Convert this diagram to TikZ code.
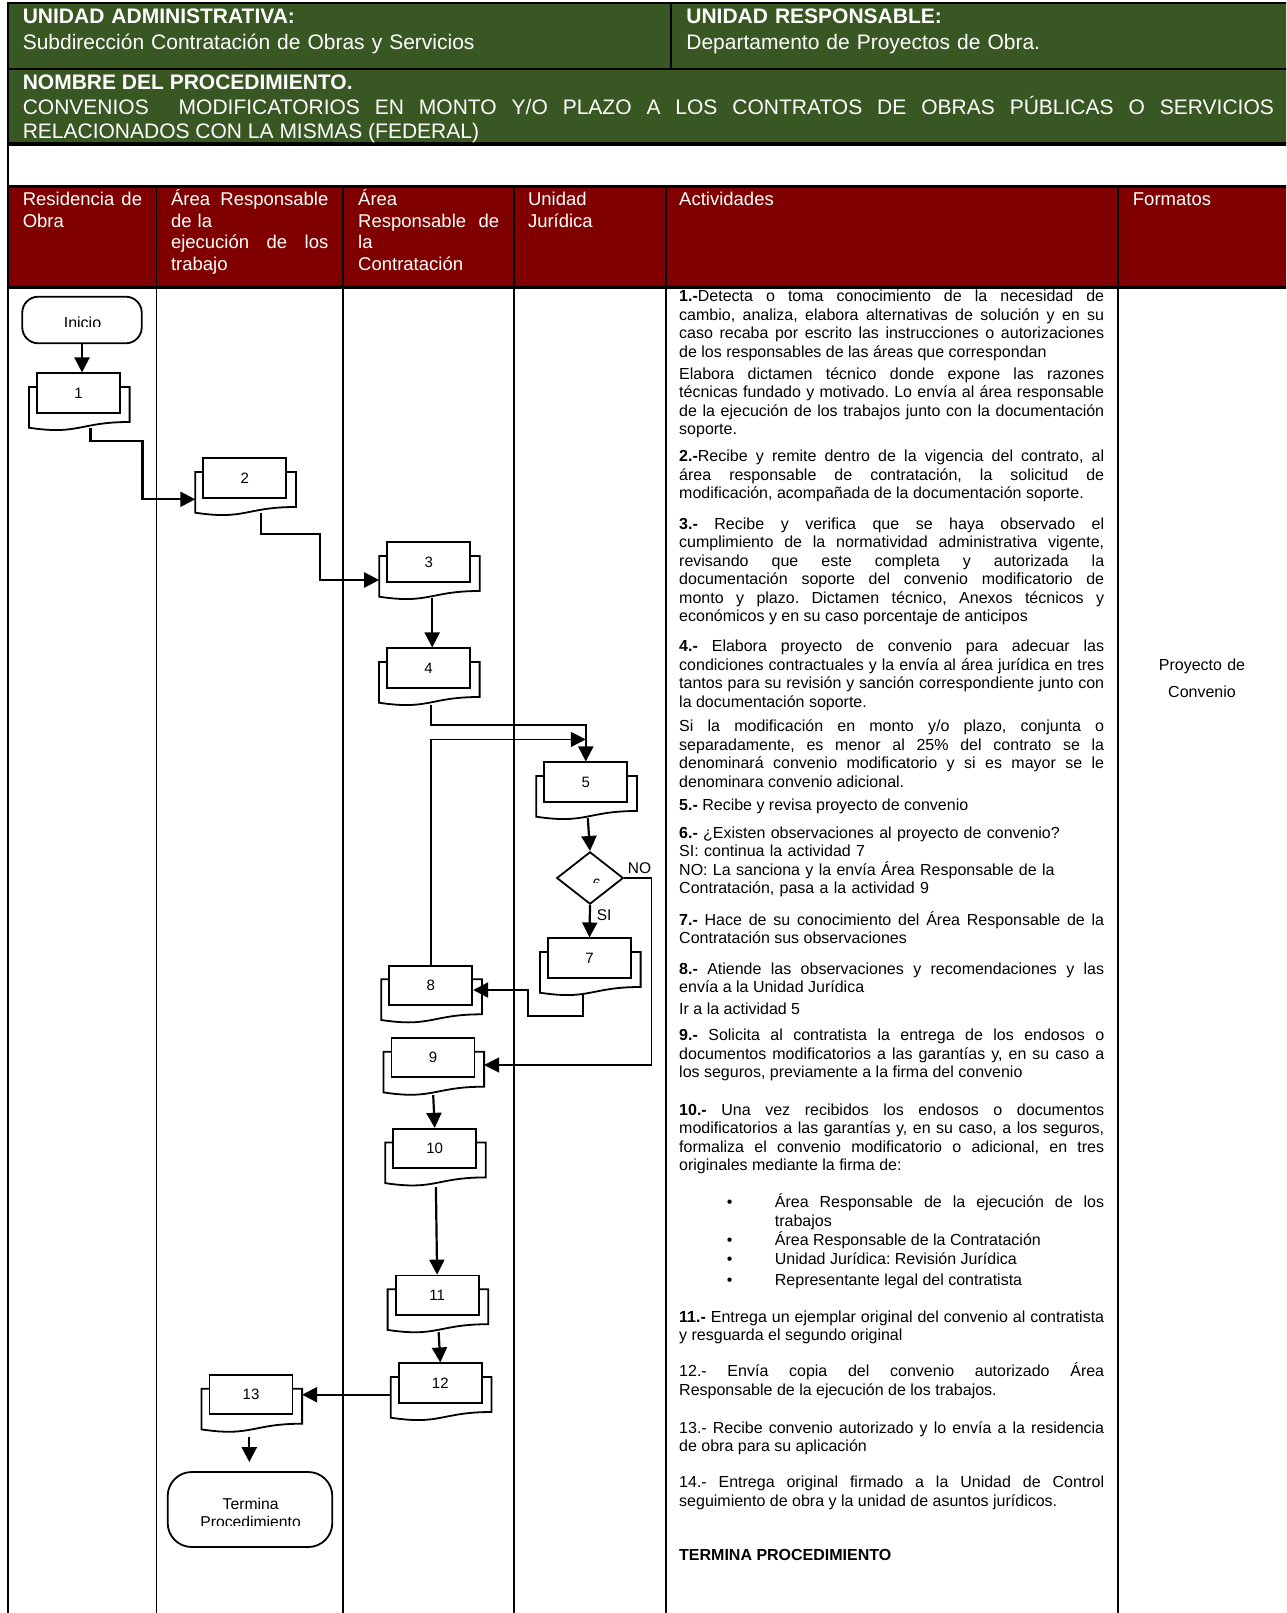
\documentclass[tikz,border=0pt]{standalone}
\usepackage{fontspec}
\setmainfont{Liberation Sans}
\usepackage{xcolor}
\usepackage{tikz}
\usetikzlibrary{shapes,arrows,positioning,calc,arrows.meta}
\definecolor{hdrgreen}{RGB}{56,87,35}
\definecolor{hdrred}{RGB}{128,0,0}
\frenchspacing
\tolerance=9999
\hyphenpenalty=10000
\exhyphenpenalty=10000

\newcommand{\actstep}[3]{%
  \coordinate (#1-c) at (#2);
  \draw[backdoc] ($(#1-c)+(-49.5,-6)$) -- ++(100.6,0) -- ++(0,35)
    .. controls ($(#1-c)+(0.8,29)$) and ($(#1-c)+(0.8,42.3)$) .. ($(#1-c)+(-49.5,34.7)$) -- cycle;
  \node[actbox] (#1) at (#1-c) {#3};
}

\begin{document}
\begin{tikzpicture}[x=1pt, y=-1pt,
    actbox/.style={draw, line width=1.8pt, fill=white, minimum width=83pt, minimum height=39.3pt, inner sep=0pt, font=\fontsize{15}{18}\selectfont},
    backdoc/.style={draw, line width=1.8pt, fill=white},
    terminal/.style={draw, line width=1.8pt, fill=white, inner sep=0pt},
    decision/.style={draw, diamond, line width=1.8pt, fill=white, inner sep=0pt, minimum width=66.6pt, minimum height=52.3pt},
    flow/.style={line width=2.2pt, -{Triangle[length=15pt,width=15pt]}},
    thinflow/.style={flow, line width=1.4pt},
    lbl/.style={inner sep=0pt, font=\fontsize{15.5}{18}\selectfont},
    gridline/.style={line width=1.6pt},
    gtxt/.style={anchor=base west, inner sep=0pt, text=white, text width=600pt, align=left, font=\fontsize{21}{25.3}\selectfont},
    htxt/.style={anchor=base west, inner sep=0pt, text=white, align=left, font=\fontsize{18.5}{21.5}\selectfont},
    acttxt/.style={anchor=base west, inner sep=0pt, text width=425pt, align=justify, font=\fontsize{16}{18.5}\selectfont},
    bultxt/.style={acttxt, text width=329.3pt, font=\fontsize{16}{19}\selectfont}]
    \useasboundingbox (0,0) rectangle (1286,1613);
    \clip (0,0) rectangle (1286,1613);

    \fill[hdrgreen] (8,3) rectangle (1290,144.5);
    \fill[hdrred] (8,186.7) rectangle (1290,287);
    \draw[line width=2.6pt] (8,3) -- (1290,3);
    \draw[line width=2pt] (8,69) -- (1290,69);
    \draw[line width=4pt] (8,144.5) -- (1290,144.5);
    \draw[line width=3pt] (8,186.7) -- (1290,186.7);
    \draw[line width=3pt] (8,287) -- (1290,287);
    \draw[line width=2.6pt] (8,1.7) -- (8,1620);
    \draw[line width=2pt] (671,3) -- (671,69);
    \foreach \cx in {156.5,343,514,666,1118}
        \draw[gridline] (\cx,186.7) -- (\cx,1620);

    \node[gtxt] (uadm) at (22.6,24) {\textbf{UNIDAD ADMINISTRATIVA:}\\Subdirección Contratación de Obras y Servicios};
    \node[gtxt] (uresp) at (686.2,24) {\textbf{UNIDAD RESPONSABLE:}\\Departamento de Proyectos de Obra.};
    \node[gtxt, text width=1251pt, align=justify, font=\fontsize{21}{24.2}\selectfont] (nproc) at (22.6,90) {\textbf{NOMBRE DEL PROCEDIMIENTO.}\\CONVENIOS\ \ MODIFICATORIOS EN MONTO Y/O PLAZO A LOS CONTRATOS DE OBRAS PÚBLICAS O SERVICIOS\linebreak RELACIONADOS CON LA MISMAS (FEDERAL)};

    \node[htxt, text width=125pt] (hres) at (22.6,206) {\makebox[119.3pt][l]{Residencia\hfill de}\\Obra};
    \node[htxt, text width=160pt] (hejec) at (170.8,206) {\makebox[157.4pt][l]{Área\hfill Responsable}\\de la\\\makebox[157.4pt][l]{ejecución\hfill de\hfill los}\\trabajo};
    \node[htxt, text width=145pt] (hcont) at (358,206) {Área\\\makebox[141pt][l]{Responsable\hfill de}\\la\\Contratación};
    \node[htxt, text width=130pt] (hjur) at (527.8,206) {Unidad\\Jurídica};
    \node[htxt, text width=400pt] (hact) at (679,206) {Actividades};
    \node[htxt, text width=150pt] (hfor) at (1132.7,206) {Formatos};

    \node[acttxt] (a1) at (679,301.7) {\textbf{1.-}Detecta o toma conocimiento de la necesidad de\linebreak cambio, analiza, elabora alternativas de solución y en su\linebreak caso recaba por escrito las instrucciones o autorizaciones\linebreak de los responsables de las áreas que correspondan};
    \node[acttxt] (a1b) at (679,379) {Elabora dictamen técnico donde expone las razones\linebreak técnicas fundado y motivado. Lo envía al área responsable\linebreak de la ejecución de los trabajos junto con la documentación\linebreak soporte.};
    \node[acttxt] (a2) at (679,461.7) {\textbf{2.-}Recibe y remite dentro de la vigencia del contrato, al\linebreak área responsable de contratación, la solicitud de\linebreak modificación, acompañada de la documentación soporte.};
    \node[acttxt] (a3) at (679,529) {\textbf{3.-} Recibe y verifica que se haya observado el\linebreak cumplimiento de la normatividad administrativa vigente,\linebreak revisando que este completa y autorizada la\linebreak documentación soporte del convenio modificatorio de\linebreak monto y plazo. Dictamen técnico, Anexos técnicos y\linebreak económicos y en su caso porcentaje de anticipos};
    \node[acttxt] (a4) at (679,651.7) {\textbf{4.-} Elabora proyecto de convenio para adecuar las\linebreak condiciones contractuales y la envía al área jurídica en tres\linebreak tantos para su revisión y sanción correspondiente junto con\linebreak la documentación soporte.};
    \node[acttxt] (a4b) at (679,731.7) {Si la modificación en monto y/o plazo, conjunta o\linebreak separadamente, es menor al 25\% del contrato se la\linebreak denominará convenio modificatorio y si es mayor se le\linebreak denominara convenio adicional.};
    \node[acttxt] (a5) at (679,810.7) {\textbf{5.-} Recibe y revisa proyecto de convenio};
    \node[acttxt, align=left] (a6) at (679,838.3) {\textbf{6.-} ¿Existen observaciones al proyecto de convenio?\\SI: continua la actividad 7\\NO: La sanciona y la envía Área Responsable de la\\Contratación, pasa a la actividad 9};
    \node[acttxt] (a7) at (679,925) {\textbf{7.-} Hace de su conocimiento del Área Responsable de la\linebreak Contratación sus observaciones};
    \node[acttxt] (a8) at (679,974) {\textbf{8.-} Atiende las observaciones y recomendaciones y las\linebreak envía a la Unidad Jurídica};
    \node[acttxt] (a8b) at (679,1014) {Ir a la actividad 5};
    \node[acttxt] (a9) at (679,1040.7) {\textbf{9.-} Solicita al contratista la entrega de los endosos o\linebreak documentos modificatorios a las garantías y, en su caso a\linebreak los seguros, previamente a la firma del convenio};
    \node[acttxt] (a10) at (679,1115) {\textbf{10.-} Una vez recibidos los endosos o documentos\linebreak modificatorios a las garantías y, en su caso, a los seguros,\linebreak formaliza el convenio modificatorio o adicional, en tres\linebreak originales mediante la firma de:};
    \node[bultxt] (bu1) at (774.7,1207.7) {\llap{\textbullet\hspace{42.5pt}}Área Responsable de la ejecución de los\linebreak trabajos};
    \node[bultxt] (bu2) at (774.7,1245) {\llap{\textbullet\hspace{42.5pt}}Área Responsable de la Contratación};
    \node[bultxt] (bu3) at (774.7,1264.3) {\llap{\textbullet\hspace{42.5pt}}Unidad Jurídica: Revisión Jurídica};
    \node[bultxt] (bu4) at (774.7,1285) {\llap{\textbullet\hspace{42.5pt}}Representante legal del contratista};
    \node[acttxt] (a11) at (679,1322.3) {\textbf{11.-} Entrega un ejemplar original del convenio al contratista\linebreak y resguarda el segundo original};
    \node[acttxt] (a12) at (679,1376.7) {12.- Envía copia del convenio autorizado Área\linebreak Responsable de la ejecución de los trabajos.};
    \node[acttxt] (a13) at (679,1433.3) {13.- Recibe convenio autorizado y lo envía a la residencia\linebreak de obra para su aplicación};
    \node[acttxt] (a14) at (679,1487.7) {14.- Entrega original firmado a la Unidad de Control\linebreak seguimiento de obra y la unidad de asuntos jurídicos.};
    \node[acttxt] (afin) at (679,1560.7) {\textbf{TERMINA PROCEDIMIENTO}};

    \node[anchor=base, inner sep=0pt, text width=160pt, align=center, font=\fontsize{16}{27.7}\selectfont] (fmt) at (1202,670) {Proyecto de\\Convenio};

    \node[terminal, rounded corners=16pt, minimum width=119.5pt, minimum height=46.6pt] (inicio) at (82,320) {};
    \begin{scope}
        \clip (inicio.north west) rectangle ($(inicio.east)+(0,6.7)$);
        \node[lbl, font=\fontsize{16}{18}\selectfont, anchor=base] (initxt) at ($(inicio.center)+(0.5,8.8)$) {Inicio};
    \end{scope}

    \actstep{b1}{78.5,393}{1}
    \actstep{b2}{244.8,478}{2}
    \actstep{b3}{428.7,562}{3}
    \actstep{b4}{428.5,668}{4}
    \actstep{b5}{585.8,782}{5}
    \actstep{b7}{589.5,958}{7}
    \actstep{b8}{430.8,985.3}{8}
    \actstep{b9}{433,1057.7}{9}
    \actstep{b10}{434.7,1148.4}{10}
    \actstep{b11}{437.1,1295.2}{11}
    \actstep{b12}{440.3,1383}{12}
    \actstep{b13}{251,1394.7}{13}

    \node[decision] (d6) at (590,878) {};
    \begin{scope}
        \clip ($(d6.center)+(-15,-10)$) rectangle ($(d6.center)+(20,4.8)$);
        \node[actbox, draw=none, fill=none, minimum width=0pt, minimum height=0pt, anchor=base] (d6txt) at ($(d6.center)+(6.7,11.1)$) {6};
    \end{scope}
    \node[lbl, anchor=base west] (lsi) at ($(d6.south)+(6.7,15.4)$) {SI};
    \node[lbl, anchor=base west] (lno) at ($(d6.east)+(3.4,-4.4)$) {NO};

    \node[terminal, rounded corners=24pt, minimum width=164.6pt, minimum height=75pt] (termina) at (250,1509.5) {};
    \begin{scope}
        \clip (termina.north west) rectangle ($(termina.east)+(0,16.3)$);
        \node[lbl, font=\fontsize{15.7}{18}\selectfont, text width=150pt, align=center, anchor=base] (termtxt) at ($(termina.center)+(0.6,-0.3)$) {Termina\\Procedimiento};
    \end{scope}

    \draw[flow] (inicio.south) -- (inicio.south |- b1.north);
    \draw[flow] ($(b1)+(12,35)$) -- ++(0,13) -- ++(52,0) |- ($(b2)+(-49.5,21.3)$);
    \draw[flow] ($(b2)+(16.2,35)$) -- ++(0,21.3) -- ++(59,0) |- ($(b3)+(-49.5,18)$);
    \draw[flow] ($(b3)+(3.5,36)$) -- ($(b4.north)+(3.7,0)$);
    \draw[flow] ($(b4)+(2.5,37)$) -- ++(0,20) -| (b5.north);
    \draw[thinflow] (b8.north) |- ($(b5.north)+(0,-22)$);
    \draw[flow] ($(b5)+(2,36)$) -- (d6.north);
    \draw[flow] (d6.south) -- (b7.north);
    \draw[thinflow] (d6.east) -- ++(27.4,0) |- ($(b9)+(51.1,7.3)$);
    \draw[flow] ($(b7)+(-6.2,37)$) -- ++(0,21) -| ($(b8)+(97.5,4.7)$) -- ($(b8.east)+(0,4.7)$);
    \draw[flow] ($(b9)+(0.2,37.3)$) -- (b10.north);
    \draw[flow] ($(b10)+(1.2,38.6)$) -- (b11.north);
    \draw[flow] ($(b11)+(1.5,36.8)$) -- (b12.north);
    \draw[flow] ($(b12)+(-49.5,11.7)$) -- ($(b13)+(51.1,0)$);
    \draw[flow] ($(b13)+(-1.7,42)$) -- ($(termina.north)+(-0.7,-9)$);
\end{tikzpicture}
\end{document}
